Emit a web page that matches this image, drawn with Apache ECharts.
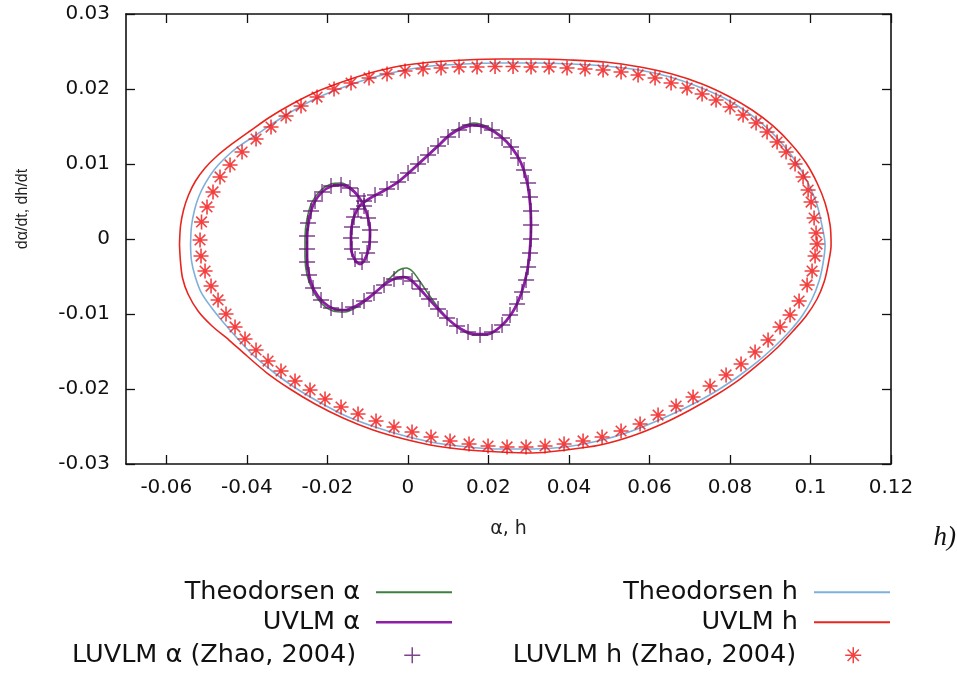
<!DOCTYPE html>
<html><head><meta charset="utf-8">
<script src="https://cdn.jsdelivr.net/npm/echarts@6/dist/echarts.min.js"></script>
<style>html,body{margin:0;padding:0;background:#fff}#c{width:957px;height:673px}</style>
</head><body><div id="c"></div>
<script>
// ---- tick values ----
const xTicks = [-0.06, -0.04, -0.02, 0, 0.02, 0.04, 0.06, 0.08, 0.1, 0.12];
const yTicks = [-0.03, -0.02, -0.01, 0, 0.01, 0.02, 0.03];

// ---- series names ----
const names = ['Theodorsen α', 'UVLM α', 'LUVLM α (Zhao, 2004)', 'Theodorsen h', 'UVLM h', 'LUVLM h (Zhao, 2004)'];

// ---- Theodorsen α (alpha, dalpha/dt) ----
const theodorsenAlpha = [
[-0.01162,0.00467],[-0.00889,0.0056],[-0.00566,0.00653],[-0.00243,0.0076],[0.00104,0.0093],[0.00427,0.0109],[0.0075,0.0125],[0.01048,0.0140],[0.01346,0.0150],[0.01644,0.01547],[0.01967,0.0150],[0.0229,0.0139],[0.02588,0.01225],[0.02812,0.0102],[0.02961,0.0077],[0.03035,0.0048],[0.0306,0.0018],[0.03035,-0.0012],[0.02961,-0.0044],[0.02812,-0.0073],[0.02588,-0.0099],[0.0229,-0.0118],[0.01967,-0.0128],[0.01644,-0.0128],[0.01321,-0.0121],[0.01023,-0.0108],[0.0075,-0.0091],[0.00527,-0.00747],[0.00328,-0.00587],[0.00129,-0.0044],[-0.00045,-0.00387],[-0.00219,-0.00413],[-0.00417,-0.00507],[-0.00666,-0.0064],[-0.00964,-0.00787],[-0.01262,-0.00907],[-0.0156,-0.00973],[-0.01858,-0.0096],[-0.02131,-0.00867],[-0.02354,-0.00693],[-0.02504,-0.0048],[-0.02554,-0.0024],[-0.02554,0.00013],[-0.02504,0.00267],[-0.0238,0.00493],[-0.02156,0.00653],[-0.01908,0.00733],[-0.01659,0.00747],[-0.01411,0.0068],[-0.01237,0.00573],[-0.01088,0.0044],[-0.00989,0.0028],[-0.00939,0.00093],[-0.00964,-0.00107],[-0.01063,-0.00267],[-0.01187,-0.00333],[-0.01311,-0.0028],[-0.01411,-0.0012],[-0.01411,0.0008],[-0.01361,0.00253],[-0.01262,0.00387],[-0.01162,0.00467]
];

// ---- UVLM α ----
const uvlmAlpha = [
[-0.01162,0.00467],[-0.00889,0.0056],[-0.00566,0.00653],[-0.00243,0.0076],[0.00104,0.0092],[0.00427,0.0108],[0.0075,0.0124],[0.01048,0.01387],[0.01346,0.0148],[0.01644,0.0152],[0.01967,0.0148],[0.0229,0.01373],[0.02588,0.01213],[0.02812,0.01013],[0.02961,0.0076],[0.03035,0.0048],[0.0306,0.00187],[0.03035,-0.0012],[0.02961,-0.0044],[0.02812,-0.00733],[0.02588,-0.00987],[0.0229,-0.01173],[0.01967,-0.01267],[0.01644,-0.01267],[0.01321,-0.012],[0.01023,-0.0108],[0.0075,-0.00933],[0.00502,-0.00787],[0.00278,-0.00653],[0.0008,-0.00547],[-0.00094,-0.00507],[-0.00268,-0.0052],[-0.00492,-0.00573],[-0.0074,-0.0068],[-0.01013,-0.008],[-0.01287,-0.00893],[-0.0156,-0.00947],[-0.01833,-0.00933],[-0.02106,-0.0084],[-0.0233,-0.0068],[-0.02454,-0.0048],[-0.02504,-0.0024],[-0.02504,0.00013],[-0.02454,0.00253],[-0.0233,0.0048],[-0.02131,0.00627],[-0.01883,0.00707],[-0.01634,0.0072],[-0.01411,0.00667],[-0.01237,0.00573],[-0.01088,0.0044],[-0.00989,0.0028],[-0.00939,0.00093],[-0.00964,-0.00107],[-0.01063,-0.00267],[-0.01187,-0.00333],[-0.01311,-0.0028],[-0.01411,-0.0012],[-0.01411,0.0008],[-0.01361,0.00253],[-0.01262,0.00387],[-0.01162,0.00467]
];

// ---- LUVLM α (Zhao, 2004) markers ----
const luvlmAlpha = [
[-0.01088,0.00507],[-0.00815,0.00587],[-0.00517,0.00667],[-0.00243,0.0076],[0.00005,0.0088],[0.00253,0.01],[0.00502,0.0112],[0.0075,0.0124],[0.00999,0.0136],[0.01272,0.01453],[0.01545,0.0152],[0.01818,0.01507],[0.02091,0.01453],[0.0234,0.01347],[0.02563,0.01227],[0.02737,0.0108],[0.02886,0.0092],[0.02986,0.00747],[0.03035,0.0056],[0.0306,0.00373],[0.0306,0.00187],[0.0306,0],[0.03035,-0.00187],[0.02986,-0.00373],[0.02936,-0.00547],[0.02837,-0.00707],[0.02712,-0.00867],[0.02538,-0.01013],[0.0234,-0.01147],[0.02091,-0.0124],[0.01793,-0.0128],[0.01495,-0.0124],[0.01222,-0.0116],[0.00974,-0.01053],[0.0075,-0.00933],[0.00527,-0.008],[0.00303,-0.00667],[0.00104,-0.0056],[-0.00119,-0.00507],[-0.00343,-0.00533],[-0.00591,-0.00613],[-0.0084,-0.0072],[-0.01088,-0.00827],[-0.01361,-0.00907],[-0.01634,-0.00947],[-0.01908,-0.0092],[-0.02156,-0.00813],[-0.02355,-0.00653],[-0.02454,-0.0048],[-0.02504,-0.00307],[-0.02504,-0.00133],[-0.02504,0.0004],[-0.02479,0.00213],[-0.02404,0.00373],[-0.02305,0.00507],[-0.02131,0.00627],[-0.01908,0.00707],[-0.01659,0.0072],[-0.01436,0.0068],[-0.01237,0.00573],[-0.01088,0.0044],[-0.00989,0.0028],[-0.00939,0.0012],[-0.00939,-0.0004],[-0.01013,-0.00187],[-0.01138,-0.00307],[-0.01311,-0.00267],[-0.01386,-0.00133],[-0.01411,0.00013],[-0.01386,0.0016],[-0.01336,0.00293],[-0.01237,0.004]
];

// ---- Theodorsen h (h, dh/dt) ----
const theodorsenH = [
[-0.05397,-0.0008],[-0.05373,0.00173],[-0.05298,0.00387],[-0.05186,0.00573],[-0.05025,0.00747],[-0.04814,0.0092],[-0.0454,0.0108],[-0.04218,0.01227],[-0.0377,0.01387],[-0.03299,0.0156],[-0.02777,0.01733],[-0.02206,0.01893],[-0.01585,0.02027],[-0.00914,0.02147],[-0.00194,0.0224],[0.00576,0.02307],[0.01396,0.02333],[0.0229,0.02347],[0.03159,0.02347],[0.04029,0.02333],[0.04898,0.02307],[0.05743,0.02253],[0.06513,0.0216],[0.07233,0.02027],[0.07854,0.0188],[0.08425,0.01693],[0.08922,0.0148],[0.09344,0.0124],[0.09692,0.00987],[0.09965,0.0072],[0.10164,0.00453],[0.10288,0.00173],[0.10363,-0.0008],[0.10313,-0.0032],[0.10214,-0.0056],[0.1004,-0.008],[0.09791,-0.01027],[0.09468,-0.0124],[0.09096,-0.0144],[0.08649,-0.01653],[0.08152,-0.01853],[0.07581,-0.02053],[0.06935,-0.0224],[0.06239,-0.02413],[0.05494,-0.02573],[0.04724,-0.02693],[0.03905,-0.02773],[0.03085,-0.028],[0.0229,-0.028],[0.01495,-0.02773],[0.007,-0.0272],[-0.0007,-0.02627],[-0.00815,-0.02507],[-0.01535,-0.0236],[-0.02206,-0.02173],[-0.02827,-0.01973],[-0.03373,-0.0176],[-0.03845,-0.01547],[-0.04242,-0.0132],[-0.0459,-0.01107],[-0.04888,-0.00907],[-0.05137,-0.00707],[-0.05286,-0.00493],[-0.05373,-0.00293],[-0.05397,-0.0008]
];

// ---- UVLM h ----
const uvlmH = [
[-0.05671,-0.0008],[-0.05646,0.00173],[-0.05571,0.00387],[-0.05447,0.00587],[-0.05273,0.00773],[-0.05037,0.00947],[-0.04739,0.01107],[-0.04367,0.01267],[-0.0392,0.0144],[-0.03423,0.01627],[-0.02876,0.018],[-0.0228,0.0196],[-0.01634,0.02093],[-0.00939,0.02213],[-0.00194,0.02307],[0.00601,0.0236],[0.01421,0.02387],[0.0229,0.024],[0.03159,0.024],[0.04029,0.02387],[0.04898,0.0236],[0.05768,0.02293],[0.06562,0.022],[0.07308,0.02067],[0.07953,0.01907],[0.08549,0.0172],[0.09071,0.01507],[0.09518,0.01267],[0.09891,0.01013],[0.10164,0.00747],[0.10363,0.0048],[0.10487,0.00187],[0.10512,-0.0008],[0.10437,-0.00347],[0.10338,-0.00573],[0.10164,-0.008],[0.09891,-0.01027],[0.09568,-0.01227],[0.09195,-0.0144],[0.08748,-0.01653],[0.08251,-0.01867],[0.07655,-0.0208],[0.0701,-0.0228],[0.06314,-0.02467],[0.05569,-0.02627],[0.04774,-0.02747],[0.03929,-0.02813],[0.03085,-0.02853],[0.0229,-0.0284],[0.01495,-0.02813],[0.007,-0.0276],[-0.00094,-0.02667],[-0.00864,-0.02547],[-0.0161,-0.02387],[-0.02305,-0.022],[-0.02926,-0.02],[-0.03497,-0.01787],[-0.03994,-0.0156],[-0.04441,-0.01347],[-0.04863,-0.0116],[-0.05211,-0.0096],[-0.0546,-0.00733],[-0.05596,-0.0052],[-0.05646,-0.00307],[-0.05671,-0.0008]
];

// ---- LUVLM h (Zhao, 2004) markers ----
const luvlmH = [
[-0.05161,-0.00013],[-0.05124,0.00227],[-0.04988,0.00427],[-0.04839,0.00627],[-0.04665,0.00827],[-0.04416,0.00987],[-0.04118,0.0116],[-0.0377,0.01333],[-0.03398,0.01493],[-0.03025,0.0164],[-0.02653,0.01773],[-0.02255,0.01893],[-0.01833,0.02],[-0.01411,0.0208],[-0.00964,0.02147],[-0.00517,0.022],[-0.0007,0.0224],[0.00378,0.02267],[0.00825,0.0228],[0.01272,0.02293],[0.01719,0.02293],[0.02166,0.023],[0.02613,0.023],[0.0306,0.02293],[0.03507,0.02293],[0.03954,0.0228],[0.04401,0.02267],[0.04849,0.02253],[0.05296,0.02227],[0.05718,0.02187],[0.0614,0.02147],[0.06538,0.0208],[0.06935,0.02013],[0.07308,0.01933],[0.07655,0.01853],[0.08003,0.0176],[0.08326,0.01653],[0.08649,0.01547],[0.08922,0.01427],[0.09171,0.01293],[0.09394,0.0116],[0.09617,0.01],[0.09816,0.00827],[0.09941,0.00653],[0.10015,0.00493],[0.1009,0.0028],[0.10139,0.0008],[0.10164,-0.00067],[0.10114,-0.00227],[0.1004,-0.00427],[0.09916,-0.00613],[0.09717,-0.00827],[0.09493,-0.01013],[0.09245,-0.01173],[0.08947,-0.01347],[0.08624,-0.01507],[0.08276,-0.01667],[0.07904,-0.01813],[0.07506,-0.0196],[0.07084,-0.02107],[0.06662,-0.02227],[0.06215,-0.02347],[0.05768,-0.02467],[0.05296,-0.0256],[0.04824,-0.0264],[0.04352,-0.02693],[0.0388,-0.02733],[0.03408,-0.0276],[0.02936,-0.02773],[0.02464,-0.02773],[0.01992,-0.0276],[0.0152,-0.02733],[0.01048,-0.02693],[0.00576,-0.0264],[0.00104,-0.02573],[-0.00343,-0.02507],[-0.0079,-0.02427],[-0.01237,-0.02333],[-0.01659,-0.0224],[-0.02057,-0.02133],[-0.02429,-0.02013],[-0.02802,-0.01893],[-0.0315,-0.0176],[-0.03472,-0.01627],[-0.0377,-0.0148],[-0.04044,-0.01333],[-0.04292,-0.01173],[-0.04516,-0.01],[-0.04714,-0.00813],[-0.04888,-0.00627],[-0.05037,-0.00427],[-0.05137,-0.00227]
];

const COL = {green:'#3f7f3f', purple:'#8e1ea6', plus:'#5e1470', blue:'#7fb0da', red:'#e8261f', star:'#f01010'};
const FONT = '"DejaVu Sans", Verdana, sans-serif';
const fmt = v => String(Math.round(v * 100) / 100);
const plusPath = 'path://M0,-10L0,10M-10,0L10,0';
const starPath = 'path://M0,-10L0,10M-10,0L10,0M-7.07,-7.07L7.07,7.07M-7.07,7.07L7.07,-7.07';

const chart = echarts.init(document.getElementById('c'), null, {renderer: 'canvas'});

function axisCommon(extra) {
  return Object.assign({
    type: 'value',
    splitLine: {show: false},
    axisLine: {show: true, onZero: false, lineStyle: {color: '#111', width: 1.6}},
  }, extra);
}

// line-sample legend entry: text right-aligned, 76px sample line to its right
function lineLegend(name, right, centerY, lineW) {
  return {
    data: [{name: name, icon: 'rect'}],
    orient: 'horizontal', align: 'right',
    right: right, top: centerY - 12.75, padding: 0,
    itemWidth: 76, itemHeight: lineW,
    selectedMode: false,
    textStyle: {fontFamily: FONT, fontSize: 25.5, color: '#111', padding: [0, 11, 0, 0]}
  };
}
// point-sample legend entry: symbol centred where the sample line would be
function pointLegend(name, right, centerY, textPad) {
  return {
    data: [name],
    orient: 'horizontal', align: 'right',
    right: right, top: centerY - 12.75, padding: 0,
    itemWidth: 16, itemHeight: 16,
    itemStyle: {borderWidth: 1.5},
    selectedMode: false,
    textStyle: {fontFamily: FONT, fontSize: 25.5, color: '#111', padding: [0, textPad, 0, 0]}
  };
}

chart.setOption({
  animation: false,
  backgroundColor: '#ffffff',
  grid: {left: 126, right: 66, top: 14, bottom: 209, containLabel: false},
  xAxis: [
    axisCommon({
      min: -0.07, max: 0.12, position: 'bottom',
      axisTick: {show: true, inside: true, length: 9, customValues: xTicks, lineStyle: {color: '#111', width: 1.3}},
      axisLabel: {show: true, customValues: xTicks, formatter: fmt, margin: 14, fontFamily: FONT, fontSize: 20, color: '#111'},
      name: 'α, h', nameLocation: 'middle', nameGap: 56,
      nameTextStyle: {fontFamily: FONT, fontSize: 19, color: '#222'}
    }),
    axisCommon({
      min: -0.07, max: 0.12, position: 'top',
      axisTick: {show: true, inside: true, length: 9, customValues: xTicks, lineStyle: {color: '#111', width: 1.3}},
      axisLabel: {show: false}
    })
  ],
  yAxis: [
    axisCommon({
      min: -0.03, max: 0.03, position: 'left',
      axisTick: {show: true, inside: true, length: 9, customValues: yTicks, lineStyle: {color: '#111', width: 1.3}},
      axisLabel: {show: true, customValues: yTicks, formatter: fmt, margin: 16, fontFamily: FONT, fontSize: 20, color: '#111'}
    }),
    axisCommon({
      min: -0.03, max: 0.03, position: 'right',
      axisTick: {show: true, inside: true, length: 9, customValues: yTicks, lineStyle: {color: '#111', width: 1.3}},
      axisLabel: {show: false}
    })
  ],
  legend: [
    lineLegend(names[0], 505, 592, 1.8),
    lineLegend(names[1], 505, 622, 2.6),
    pointLegend(names[2], 536, 655, 43),
    lineLegend(names[3], 67, 592, 1.8),
    lineLegend(names[4], 67, 622, 1.8),
    pointLegend(names[5], 95, 655, 44)
  ],
  graphic: [
    {type: 'text', x: 23, y: 209, rotation: Math.PI / 2,
     style: {text: 'dα/dt, dh/dt', font: '16px "Liberation Sans", Arial, sans-serif', fill: '#222', align: 'center', verticalAlign: 'middle'}},
    {type: 'text', x: 956, y: 538,
     style: {text: 'h)', font: 'italic 27px "Liberation Serif", "Times New Roman", serif', fill: '#111', align: 'right', verticalAlign: 'middle'}}
  ],
  series: [
    {name: names[3], type: 'line', data: theodorsenH, symbol: 'none', smooth: 0.3,
     lineStyle: {color: COL.blue, width: 1.6}, itemStyle: {color: COL.blue}, z: 2},
    {name: names[4], type: 'line', data: uvlmH, symbol: 'none', smooth: 0.3,
     lineStyle: {color: COL.red, width: 1.6}, itemStyle: {color: COL.red}, z: 2},
    {name: names[5], type: 'scatter', data: luvlmH, symbol: starPath, symbolSize: 15,
     itemStyle: {color: 'rgba(0,0,0,0)', borderColor: COL.star, borderWidth: 1.6}, z: 3},
    {name: names[0], type: 'line', data: theodorsenAlpha, symbol: 'none', smooth: 0.3,
     lineStyle: {color: COL.green, width: 1.6}, itemStyle: {color: COL.green}, z: 4},
    {name: names[1], type: 'line', data: uvlmAlpha, symbol: 'none', smooth: 0.3,
     lineStyle: {color: COL.purple, width: 2.8}, itemStyle: {color: COL.purple}, z: 5},
    {name: names[2], type: 'scatter', data: luvlmAlpha, symbol: plusPath, symbolSize: 16,
     itemStyle: {color: 'rgba(0,0,0,0)', borderColor: COL.plus, borderWidth: 1.4}, z: 6}
  ]
});
</script>
</body></html>
